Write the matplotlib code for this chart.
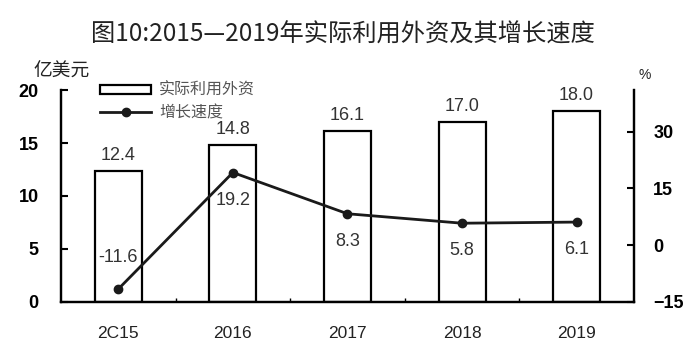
''' 2015-2019 actual use of foreign capital and growth rate '''

import matplotlib
matplotlib.use('Agg')
import matplotlib.pyplot as plt
from matplotlib.lines import Line2D
from matplotlib.patches import Patch

years = ['2C15', '2016', '2017', '2018', '2019']
fdi = [12.4, 14.8, 16.1, 17.0, 18.0]        # 亿美元
growth = [-11.6, 19.2, 8.3, 5.8, 6.1]      # %

cjk = ['Noto Sans CJK SC', 'DejaVu Sans']
num_font = ['Liberation Sans Narrow', 'Liberation Sans', 'DejaVu Sans']

fig = plt.figure(figsize=(6.86, 3.56), dpi=100)
ax = fig.add_axes([0.089, 0.152, 0.835, 0.595])
ax2 = ax.twinx()

x = list(range(len(years)))
ax.bar(x, fdi, width=0.41, facecolor='white', edgecolor='black',
       linewidth=1.6, zorder=2)
ax2.plot(x, growth, '-o', color='#1a1a1a', linewidth=2, markersize=6,
         zorder=3)

ax.set_xlim(-0.5, 4.5)
ax.set_ylim(0, 20)
ax2.set_ylim(-15, 41)

# axes look
for a in (ax, ax2):
    for s in a.spines.values():
        s.set_linewidth(1.6)
    a.spines['top'].set_visible(False)

ax.set_yticks([0, 5, 10, 15, 20])
ax2.set_yticks([-15, 0, 15, 30])
ax.tick_params(axis='y', direction='in', length=5, width=1.5, pad=16)
ax2.tick_params(axis='y', direction='in', length=5, width=1.5, pad=14)
for lab in ax.get_yticklabels() + ax2.get_yticklabels():
    lab.set_fontfamily(num_font)
    lab.set_fontweight('bold')
    lab.set_fontsize(13)

# x ticks between categories, labels centered
ax.set_xticks([i + 0.5 for i in range(len(years) - 1)])
ax.set_xticklabels([])
ax.tick_params(axis='x', direction='in', length=3, width=1)
for i, y in enumerate(years):
    ax.text(i, -3.0, y, ha='center', va='center', fontsize=12.5,
            family=num_font, color='#222222')

# value labels
for i, v in enumerate(fdi):
    ax.annotate('%.1f' % v, (i, v), xytext=(0, 5), textcoords='offset points',
                ha='center', va='bottom', fontsize=13,
                family=['Liberation Sans', 'DejaVu Sans'], color='#333333')
for i, v in enumerate(growth):
    off = 23 if v < 0 else -20
    ax2.annotate('%.1f' % v, (i, v), xytext=(0, off),
                 textcoords='offset points', ha='center', va='center',
                 fontsize=13, family=['Liberation Sans', 'DejaVu Sans'],
                 color='#333333', zorder=4)

# units
fig.text(0.09, 0.80, '亿美元', ha='center', va='center', fontsize=13.5,
         family=cjk, color='#222222')
fig.text(0.94, 0.79, '%', ha='center', va='center', fontsize=10,
         family=num_font, color='#222222')

# legend
handles = [Patch(facecolor='white', edgecolor='black', linewidth=1.6),
           Line2D([], [], color='#1a1a1a', linewidth=2, marker='o',
                  markersize=6)]
leg = fig.legend(handles, ['实际利用外资', '增长速度'], loc='upper left',
                 bbox_to_anchor=(0.125, 0.81), frameon=False,
                 prop={'family': cjk, 'size': 11.5}, handlelength=3.2,
                 handleheight=0.5, labelspacing=0.35, handletextpad=0.5)
for t in leg.get_texts():
    t.set_color('#555555')

fig.suptitle('图10:2015—2019年实际利用外资及其增长速度', y=0.94,
             fontsize=17.5, family=cjk, color='#222222')

fig.savefig('out.png', dpi=100)
